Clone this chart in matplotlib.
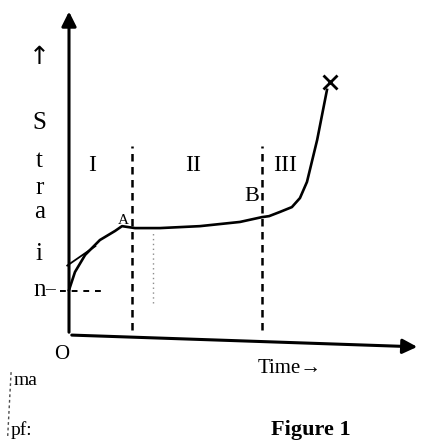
"""
Creep curve (Figure 1): strain vs time, stages I, II, III
"""

import matplotlib.pyplot as plt

# Creep curve (time, strain in arbitrary units)
time = [0.0, 0.17, 0.46, 0.88, 1.31, 1.51, 1.88, 2.59, 3.73, 4.87, 5.50,
        5.70, 6.01, 6.35, 6.58, 6.78, 7.07, 7.35]
strain = [1.39, 1.95, 2.48, 2.94, 3.22, 3.37, 3.31, 3.31, 3.37, 3.50, 3.65,
          3.68, 3.81, 3.96, 4.24, 4.74, 6.04, 7.59]
end_point = (7.44, 7.83)

# stage boundaries
t_boundaries = [1.80, 5.50]
stage_labels = ["I", "II", "III"]
stage_x = [0.65, 3.55, 6.15]
strain_letters = list("Strain")
letter_y = [6.55, 5.4, 4.55, 3.82, 2.5, 1.38]

# tangent stroke near origin
tan_t = [-0.05, 0.75]
tan_s = [2.15, 2.75]

SERIF = ["Liberation Serif", "DejaVu Serif"]

fig = plt.figure(figsize=(4.24, 4.44), dpi=100)
ax = fig.add_axes([69 / 424, 109 / 444, 351 / 424, 323 / 444])
ax.set_xlim(0, 10)
ax.set_ylim(0, 10)
ax.set_xticks([])
ax.set_yticks([])
for sp in ax.spines.values():
    sp.set_visible(False)
ax.patch.set_visible(False)

# axes with arrow heads
ax.annotate("", xy=(0, 10.1), xytext=(0, 0),
            arrowprops=dict(arrowstyle="-|>", lw=2.2, color="black",
                            mutation_scale=22), annotation_clip=False)
ax.annotate("", xy=(10.0, -0.37), xytext=(0, 0),
            arrowprops=dict(arrowstyle="-|>", lw=2.2, color="black",
                            mutation_scale=22), annotation_clip=False)

# curve
ax.plot(time, strain, color="black", lw=1.9, clip_on=False)
ax.plot(tan_t, tan_s, color="black", lw=1.3, clip_on=False)
ax.plot(*end_point, marker="x", ms=10, mew=2, color="black", clip_on=False)

# dashed stage boundaries
for tb in t_boundaries:
    ax.plot([tb, tb], [0.15, 5.85], color="black", lw=1.8, ls=(0, (3, 2.2)))

# dashed line from "n" to the curve
ax.plot([-0.25, 1.0], [1.35, 1.35], color="black", lw=1.4, ls=(0, (3, 3)),
        clip_on=False)
ax.plot([2.4, 2.4], [1.0, 3.2], color="0.55", lw=1.0, ls=(0, (1, 2.5)))

for lab, x in zip(stage_labels, stage_x):
    ax.text(x, 5.25, lab, fontsize=17, family=SERIF, ha="center", va="center")

ax.text(5.2, 4.3, "B", fontsize=16, family=SERIF, ha="center", va="center")
ax.text(1.55, 3.55, "A", fontsize=11, family=SERIF, ha="center", va="center")

# y axis label, one letter per row
ax.text(-0.85, 8.6, "\u2191", fontsize=18, ha="center", va="center",
        clip_on=False)
for ch, y in zip(strain_letters, letter_y):
    ax.text(-0.85, y, ch, fontsize=18, family=SERIF, ha="center",
            va="center", clip_on=False)
ax.text(-0.55, 1.4, "\u2013", fontsize=14, family=SERIF, ha="center",
        va="center", clip_on=False)

ax.text(-0.2, -0.6, "O", fontsize=15, family=SERIF, ha="center",
        va="center", clip_on=False)
ax.text(6.3, -1.05, "Time\u2192", fontsize=15, family=SERIF, ha="center",
        va="center", clip_on=False)
ax.text(6.9, -2.95, "Figure 1", fontsize=16, family=SERIF,
        fontweight="bold", ha="center", va="center", clip_on=False)

# margin scraps from the scanned page
ax.text(-1.25, -1.4, "ma", fontsize=14, family=SERIF, ha="center",
        va="center", clip_on=False)
ax.text(-1.35, -2.95, "pf:", fontsize=14, family=SERIF, ha="center",
        va="center", clip_on=False)
ax.plot([-1.65, -1.75], [-1.15, -3.2], color="0.3", lw=1.0,
        ls=(0, (2, 2)), clip_on=False)

fig.savefig("out.png", dpi=100, facecolor="white")
